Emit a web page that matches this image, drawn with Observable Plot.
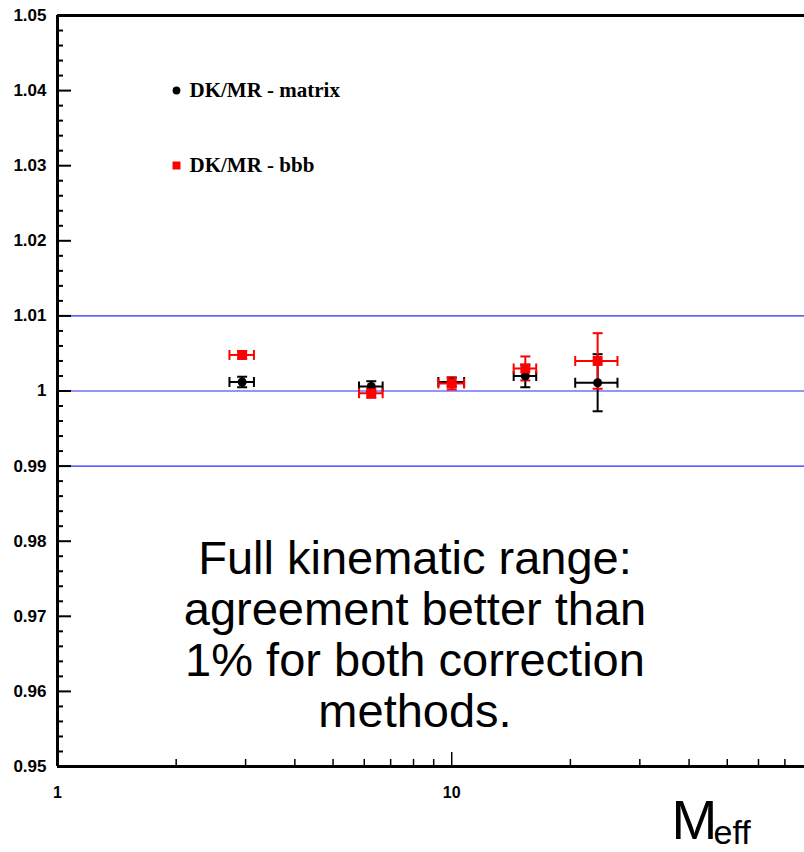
<!DOCTYPE html>
<html>
<head>
<meta charset="utf-8">
<script src="https://cdn.jsdelivr.net/npm/d3@7"></script>
<script src="https://cdn.jsdelivr.net/npm/@observablehq/plot@0.6"></script>
<style>
  html, body { margin: 0; padding: 0; background: white; }
  #chart { width: 804px; height: 852px; }
</style>
</head>
<body>
<div id="chart"></div>
<script>
// ---- data ----
const meff = [2.94, 6.25, 10.0, 15.37, 23.45];
const meffErr = [0.21, 0.43, 0.75, 1.01, 2.88];
const matrixRatio = [1.0012, 1.0006, 1.0012, 1.0020, 1.0011];
const matrixErr = [0.0007, 0.0007, 0.0006, 0.0015, 0.0038];
const bbbRatio = [1.0048, 0.9997, 1.0010, 1.0030, 1.0040];
const bbbErr = [0.0005, 0.0006, 0.0008, 0.0016, 0.0037];

const seriesNames = ["DK/MR - matrix", "DK/MR - bbb"];
const yMajorTicks = [0.95, 0.96, 0.97, 0.98, 0.99, 1.00, 1.01, 1.02, 1.03, 1.04, 1.05];
const yTickLabels = ["0.95", "0.96", "0.97", "0.98", "0.99", "1", "1.01", "1.02", "1.03", "1.04", "1.05"];
const yMinorTicks = d3.range(0, 51).map(i => +(0.95 + i * 0.002).toFixed(3)).filter(v => !yMajorTicks.some(m => Math.abs(m - v) < 1e-9));
const xMajorTicks = [1, 10];
const xTickLabels = ["1", "10"];
const xMinorTicks = [2, 3, 4, 5, 6, 7, 8, 9, 20, 30, 40, 50, 60, 70];
const refLines = [0.99, 1.00, 1.01];
const annotationLines = ["Full kinematic range:", "agreement better than", "1% for both correction", "methods."];
const xTitle = "M";
const xTitleSub = "eff";

const xDomain = [1, 78.5];
const yDomain = [0.95, 1.05];

const matrix = meff.map((x, i) => ({x, xlo: x - meffErr[i], xhi: x + meffErr[i], y: matrixRatio[i], ylo: matrixRatio[i] - matrixErr[i], yhi: matrixRatio[i] + matrixErr[i]}));
const bbb = meff.map((x, i) => ({x, xlo: x - meffErr[i], xhi: x + meffErr[i], y: bbbRatio[i], ylo: bbbRatio[i] - bbbErr[i], yhi: bbbRatio[i] + bbbErr[i]}));

// cap symbols
const vCap = {draw(ctx, size) { const r = Math.sqrt(size / Math.PI); ctx.moveTo(0, -r); ctx.lineTo(0, r); }};
const hCap = {draw(ctx, size) { const r = Math.sqrt(size / Math.PI); ctx.moveTo(-r, 0); ctx.lineTo(r, 0); }};

function errorMarks(data, color) {
  return [
    Plot.link(data, {x1: "xlo", x2: "xhi", y1: "y", y2: "y", stroke: color, strokeWidth: 2}),
    Plot.link(data, {x1: "x", x2: "x", y1: "ylo", y2: "yhi", stroke: color, strokeWidth: 2}),
    Plot.dot(data, {x: "xlo", y: "y", symbol: vCap, r: 5, stroke: color, strokeWidth: 2, fill: "none"}),
    Plot.dot(data, {x: "xhi", y: "y", symbol: vCap, r: 5, stroke: color, strokeWidth: 2, fill: "none"}),
    Plot.dot(data, {x: "x", y: "ylo", symbol: hCap, r: 5, stroke: color, strokeWidth: 2, fill: "none"}),
    Plot.dot(data, {x: "x", y: "yhi", symbol: hCap, r: 5, stroke: color, strokeWidth: 2, fill: "none"})
  ];
}

const sans = "'Liberation Sans', Arial, Helvetica, sans-serif";
const serif = "'Liberation Serif', 'Times New Roman', serif";

const chart = Plot.plot({
  width: 804,
  height: 852,
  marginLeft: 57,
  marginRight: 0,
  marginTop: 15,
  marginBottom: 86,
  style: {fontFamily: sans, background: "white", overflow: "visible"},
  x: {type: "log", domain: xDomain},
  y: {domain: yDomain},
  marks: [
    Plot.ruleY(refLines, {stroke: "#2a2aff", strokeWidth: 1.2}),
    // axis ticks (inward)
    Plot.axisY(yMajorTicks, {anchor: "left", tickSize: -14, strokeWidth: 2, tickFormat: () => "", label: null}),
    Plot.axisY(yMinorTicks, {anchor: "left", tickSize: -6, strokeWidth: 2, tickFormat: () => "", label: null}),
    Plot.axisY(yMajorTicks, {anchor: "left", tickSize: 0, tickPadding: 11, fontSize: 17, fontWeight: "bold", tickFormat: (d, i) => yTickLabels[i], label: null}),
    Plot.axisX(xMajorTicks, {anchor: "bottom", tickSize: -14, strokeWidth: 1.5, tickFormat: () => "", label: null}),
    Plot.axisX(xMinorTicks, {anchor: "bottom", tickSize: -7, strokeWidth: 1.5, tickFormat: () => "", label: null}),
    Plot.text(xMajorTicks, {x: d => d, frameAnchor: "bottom", lineAnchor: "middle", dy: 26, text: (d, i) => xTickLabels[i], fontSize: 16, fontWeight: "bold", fill: "black"}),
    // frame lines
    Plot.ruleX([xDomain[0]], {strokeWidth: 3, stroke: "black"}),
    Plot.ruleY([yDomain[0], yDomain[1]], {strokeWidth: 3, stroke: "black"}),
    // data
    ...errorMarks(matrix, "black"),
    ...errorMarks(bbb, "#ff0000"),
    Plot.dot(matrix, {x: "x", y: "y", r: 4.5, fill: "black", stroke: "none"}),
    Plot.dot(bbb, {x: "x", y: "y", symbol: "square", r: 5.6, fill: "#ff0000", stroke: "none"}),
    // legend
    Plot.dot([seriesNames[0]], {frameAnchor: "top-left", dx: 119, dy: 75, r: 3.9, fill: "black", stroke: "none"}),
    Plot.text([seriesNames[0]], {frameAnchor: "top-left", lineAnchor: "middle", dx: 132, dy: 75, textAnchor: "start", fontSize: 21, fontWeight: "bold", fontFamily: serif, fill: "black"}),
    Plot.dot([seriesNames[1]], {frameAnchor: "top-left", dx: 119, dy: 150, symbol: "square", r: 4.5, fill: "#ff0000", stroke: "none"}),
    Plot.text([seriesNames[1]], {frameAnchor: "top-left", lineAnchor: "middle", dx: 132, dy: 150, textAnchor: "start", fontSize: 21, fontWeight: "bold", fontFamily: serif, fill: "black"}),
    // annotation
    Plot.text([annotationLines.join("\n")], {frameAnchor: "middle", dx: -16, dy: 243, fontSize: 47, lineHeight: 1.085, textAnchor: "middle", fill: "black"}),
    // axis title
    Plot.text([xTitle], {frameAnchor: "bottom-right", lineAnchor: "middle", dx: -133, dy: 55, textAnchor: "start", fontSize: 55, fill: "black"}),
    Plot.text([xTitleSub], {frameAnchor: "bottom-right", lineAnchor: "middle", dx: -91, dy: 67, textAnchor: "start", fontSize: 34, fill: "black"})
  ]
});
document.getElementById("chart").appendChild(chart);
</script>
</body>
</html>
